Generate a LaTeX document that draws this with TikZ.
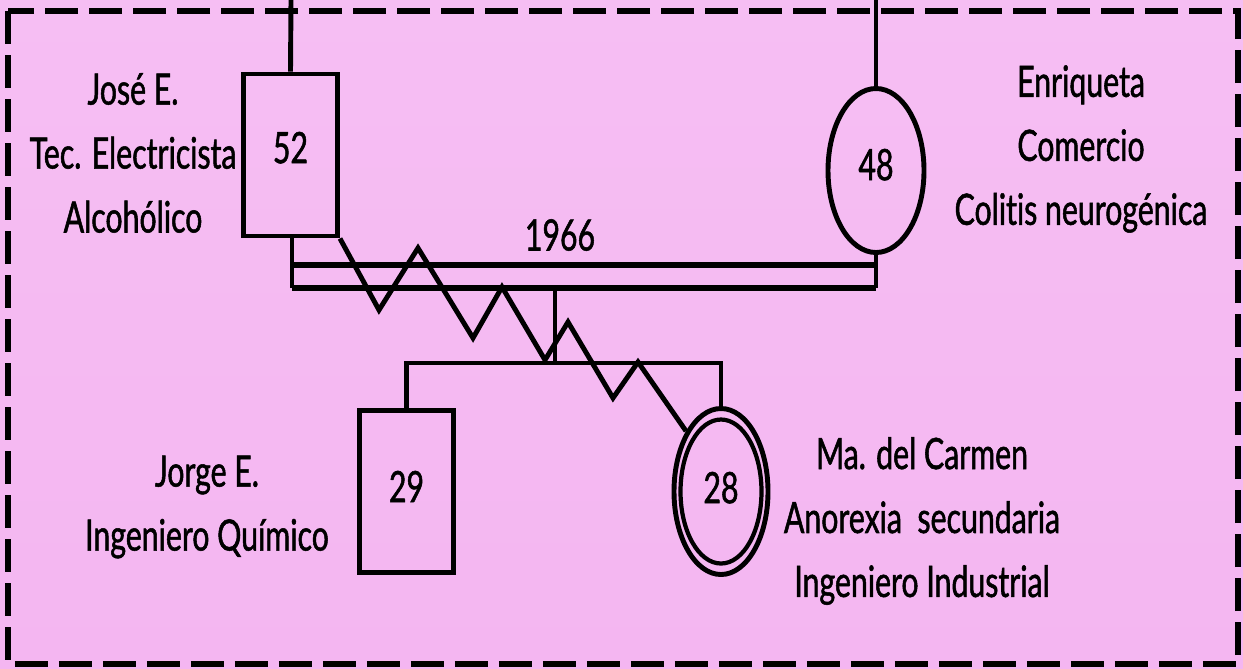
\documentclass[tikz,border=0pt]{standalone}
\usepackage{fontspec}
\newfontfamily\gillfont[FakeStretch=0.70,FakeBold=1.2,Ligatures=NoCommon]{Lato}
\usetikzlibrary{shapes.geometric}
\definecolor{bgtop}{HTML}{F6BEF3}
\definecolor{bgmid}{HTML}{EA94E7}
\definecolor{bgbot}{HTML}{F4B6F1}
\tikzset{
  male/.style={draw,line width=1.4pt,minimum width=9.4mm,minimum height=16.2mm,inner sep=0pt},
  female/.style={draw,ellipse,line width=1.4pt,minimum width=9.6mm,minimum height=16.4mm,inner sep=0pt},
  txt/.style={font={\gillfont\fontsize{12.3}{18.2}\selectfont},align=center,inner sep=0pt},
  link/.style={line width=1.4pt},
  union/.style={line width=1.9pt}
}
\begin{document}
\begin{tikzpicture}[x=0.1mm,y=-0.1mm]
  \useasboundingbox (0,0) rectangle (1243,668);
  % background and frame
  \shade[top color=bgtop,middle color=bgmid,bottom color=bgbot] (0,0) rectangle (1243,668);
  \draw[line width=1.6pt,dash pattern=on 3.3mm off 1.1mm] (8,11) rectangle (1238,664);

  % parents
  \node[male,txt] (jose) at (290.5,155) {\raisebox{1.5mm}{52}};
  \node[female,txt] (enri) at (876,170.5) {\raisebox{1.2mm}{48}};
  \coordinate (topj) at (291,0);
  \coordinate (tope) at (876,0);
  \draw[link] (topj) -- (jose.north);
  \draw[link] (tope) -- (enri.north);

  % marriage
  \coordinate (mL) at (292,288);
  \coordinate (mR) at (876,288);
  \coordinate (uL) at (292,265);
  \coordinate (uR) at (876,265);
  \draw[link] (jose.south -| mL) -- (mL);
  \draw[link] (enri.south) -- (mR);
  \draw[union] (mL) -- (mR);
  \draw[union] (uL) -- (uR);
  \node[txt] (year) at (560,235) {1966};

  % children
  \node[male,txt] (jorge) at (406.5,491.5) {\raisebox{1mm}{29}};
  \node[female,txt,minimum width=9.4mm,minimum height=16.6mm] (carmen) at (721,491.5) {\raisebox{0.8mm}{28}};
  \draw[line width=1.2pt] (carmen.center) ellipse [x radius=4.05mm,y radius=7.2mm];
  \coordinate (kid) at (555,288);
  \coordinate (sib) at (555,363);
  \draw[link] (kid) -- (sib);
  \draw[link] (jorge.north) |- (sib) -| (carmen.north);

  % conflict
  \draw[link,line join=miter] (jose.south east) -- (379,310) -- (418,248) -- (473,338)
    -- (502,287) -- (545,360) -- (568,322) -- (613,398) -- (638,362) -- (carmen.north west);

  % labels
  \node[txt] (josetxt) at (133,153) {José E.\\Tec. Electricista\\Alcohólico};
  \node[txt] (enritxt) at (1081,149) {Enriqueta\\Comercio\\Colitis neurogénica};
  \node[txt] (jorgetxt) at (207,507) {Jorge E.\\Ingeniero Químico};
  \node[txt] (carmentxt) at (922,521) {Ma. del Carmen\\Anorexia\ \ secundaria\\Ingeniero Industrial};
\end{tikzpicture}
\end{document}
